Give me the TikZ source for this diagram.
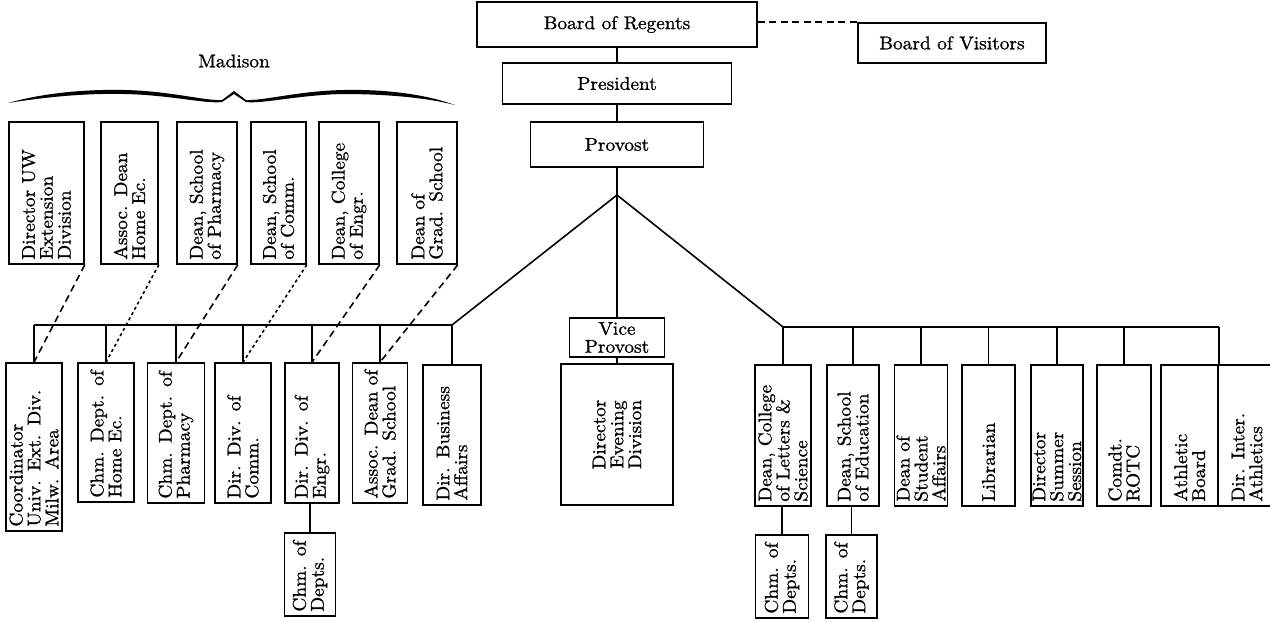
\documentclass[tikz,border=0pt]{standalone}
\usepackage{fontspec}
\setmainfont{Latin Modern Roman}[FakeBold=1, FakeStretch=1.05]
\usepackage{tikz}

\tikzset{
	post/.style={draw, line width=0.9pt, inner sep=0pt, font=\fontsize{10.5}{10.2}\selectfont},
	hpost/.style 2 args={post, minimum width=#1, minimum height=#2, align=center},
	vpost/.style 2 args={post, rotate=90, inner xsep=2.5pt, minimum width=#1, text width=#1-5pt, minimum height=#2, align=left},
	link/.style={line width=0.9pt},
	longdash/.style={line width=0.9pt, dash pattern=on 1.4mm off 0.9mm},
	shortdash/.style={line width=0.9pt, dash pattern=on 0.6mm off 0.6mm},
}

\begin{document}
\begin{tikzpicture}[x=0.2mm, y=-0.2mm]
	\useasboundingbox (0,0) rectangle (1270,621);
	\fill[white] (0,0) rectangle (1270,621);

	% top of the chart
	\node[hpost={56mm}{9mm}] (regents) at (617,24.5) {Board of Regents};
	\node[hpost={37.6mm}{8mm}] (visitors) at (952,43) {Board of Visitors};
	\node[hpost={45.8mm}{8.2mm}] (president) at (617,83.5) {President};
	\node[hpost={34.6mm}{9mm}] (provost) at (617,144.5) {Provost};
	\node[hpost={19mm}{7.8mm}] (viceprov) at (617,337.5) {Vice\\Provost};
	\node[vpost={28.2mm}{22.4mm}, align=center] (evening) at (617,434.5) {Director\\Evening\\Division};

	% Madison
	\node[font=\fontsize{10.5}{10}\selectfont] (madison) at (234,61) {Madison};
	\fill (8,103) .. controls (40,94) and (80,89) .. (125,90) .. controls (170,91) and (205,101) .. (222,100)
		-- (234,91) -- (246,100) .. controls (263,101) and (298,91) .. (343,90) .. controls (388,89) and (428,95) .. (455,105)
		.. controls (428,98) and (388,94) .. (343,94) .. controls (298,95) and (263,104) .. (246,102)
		-- (234,94) -- (222,102) .. controls (205,104) and (170,95) .. (125,94) .. controls (80,93) and (40,98) .. (8,103) -- cycle;
	\node[vpost={28.4mm}{15mm}] (extdiv) at (46.5,193) {Director UW\\Extension\\Division};
	\node[vpost={28.4mm}{11.4mm}] (homeec) at (129.5,193) {Assoc. Dean\\Home Ec.};
	\node[vpost={28.4mm}{12mm}] (pharmacy) at (207,193) {Dean, School\\of Pharmacy};
	\node[vpost={28.4mm}{11mm}] (comm) at (278.5,193) {Dean, School\\of Comm.};
	\node[vpost={28.4mm}{12mm}] (engr) at (349,193) {Dean, College\\of Engr.};
	\node[vpost={28.4mm}{12mm}] (grad) at (427,193) {Dean of\\Grad. School};

	% left branch
	\node[vpost={33.6mm}{11.2mm}] (milw) at (34,447) {Coordinator\\Univ. Ext. Div.\\Milw. Area};
	\node[vpost={27.8mm}{11.2mm}] (chmhomeec) at (106,432.5) {Chm. Dept. of\\Home Ec.};
	\node[vpost={28mm}{11.4mm}] (chmpharmacy) at (176,433) {Chm. Dept. of\\Pharmacy};
	\node[vpost={28mm}{11.2mm}] (dircomm) at (243,433) {Dir. Div. of\\Comm.};
	\node[vpost={28mm}{10.8mm}] (direngr) at (312,433) {Dir. Div. of\\Engr.};
	\node[vpost={28mm}{11mm}] (assocgrad) at (380,433) {Assoc. Dean of\\Grad. School};
	\node[vpost={28mm}{11.6mm}] (business) at (452,435) {Dir. Business\\Affairs};
	\node[vpost={16.6mm}{10.2mm}] (chmengr) at (310,574.5) {Chm. of\\Depts.};

	% right branch
	\node[vpost={28.2mm}{11.2mm}] (letters) at (783,435.5) {Dean, College\\of Letters \&\\Science};
	\node[vpost={28.2mm}{10.4mm}] (education) at (853,435.5) {Dean, School\\of Education};
	\node[vpost={28.2mm}{10.6mm}] (students) at (921,435.5) {Dean of\\Student\\Affairs};
	\node[vpost={28.2mm}{10.6mm}] (librarian) at (988.5,435.5) {Librarian};
	\node[vpost={28.2mm}{10.4mm}] (summer) at (1057,435.5) {Director\\Summer\\Session};
	\node[vpost={28.2mm}{10.8mm}] (rotc) at (1124,435.5) {Comdt.\\ROTC};
	\node[vpost={28.2mm}{11.4mm}] (athboard) at (1189.5,435.5) {Athletic\\Board};
	\node[vpost={28.2mm}{11.6mm}] (athletics) at (1247,435.5) {Dir. Inter.\\Athletics};
	\node[vpost={16.6mm}{10.6mm}] (chmletters) at (782,576.5) {Chm. of\\Depts.};
	\node[vpost={16.6mm}{10.2mm}] (chmeducation) at (851.5,576.5) {Chm. of\\Depts.};

	\coordinate (apex) at (617,195);
	\coordinate (leftbus) at (452,325);
	\coordinate (rightbus) at (783,327);

	\draw[link] (regents) -- (president);
	\draw[link] (president) -- (provost);
	\draw[link] (provost) -- (apex);
	\draw[link] (apex) -- (viceprov);
	\draw[link] (viceprov) -- (evening);
	\draw[longdash] (regents.east |- visitors.north) -- (visitors.north west);

	\draw[link] (milw.east |- leftbus) -- (leftbus) -- (apex) -- (rightbus) -- (athboard.south east |- rightbus);
	\foreach \n in {milw, chmhomeec, chmpharmacy, dircomm, direngr, assocgrad, business}
		\draw[link] (\n.east) -- (\n.east |- leftbus);
	\foreach \n in {letters, education, students, librarian, summer, rotc}
		\draw[link] (\n.east) -- (\n.east |- rightbus);
	\draw[link] (athboard.south east) -- (athboard.south east |- rightbus);
	\draw[link] (chmengr.east) -- (chmengr.east |- direngr.west);
	\draw[link] (chmletters.east) -- (chmletters.east |- letters.west);
	\draw[link] (chmeducation.east) -- (chmeducation.east |- education.west);

	% Madison deans to Milwaukee posts
	\draw[longdash] (extdiv.south west) -- (milw.east);
	\draw[shortdash] (homeec.south west) -- (chmhomeec.east);
	\draw[longdash] (pharmacy.south west) -- (chmpharmacy.east);
	\draw[shortdash] (comm.south west) -- (dircomm.east);
	\draw[longdash] (engr.south west) -- (direngr.east);
	\draw[longdash] (grad.south west) -- (assocgrad.east);
\end{tikzpicture}
\end{document}
